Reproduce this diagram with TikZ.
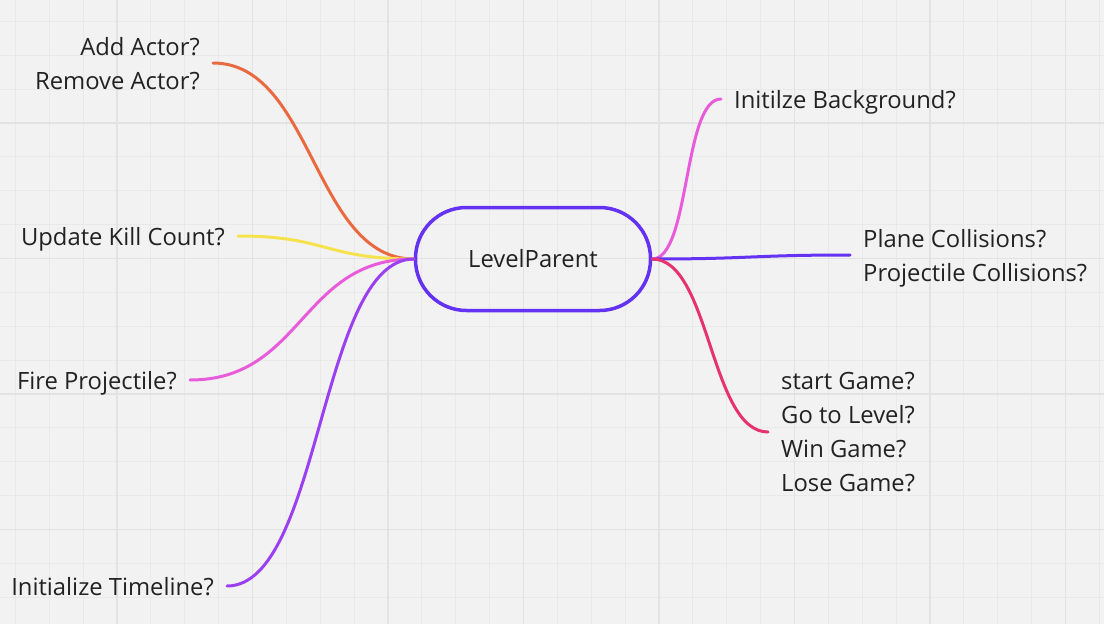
\documentclass[tikz,border=0pt]{standalone}
\usepackage{fontspec}
\setmainfont{Open Sans}
\usepackage{tikz}
\definecolor{boardGray}{HTML}{F2F2F2}
\definecolor{gridMinor}{HTML}{E9E9E9}
\definecolor{gridMajor}{HTML}{E2E2E2}
\definecolor{inkDark}{HTML}{222222}
\definecolor{parentViolet}{HTML}{6432F2}
\definecolor{branchOrange}{HTML}{E96A40}
\definecolor{branchYellow}{HTML}{F6E24C}
\definecolor{branchPink}{HTML}{E85CDC}
\definecolor{branchPurple}{HTML}{9B40F0}
\definecolor{branchRed}{HTML}{E6336E}

\begin{document}
\begin{tikzpicture}[
			x=1pt, y=-1pt,
			every node/.style={font=\fontsize{23.8}{34}\selectfont, text=inkDark},
			parent/.style={
				draw=parentViolet, line width=3.5pt, rounded corners=51pt,
				minimum width=235pt, minimum height=103pt
			},
			leafL/.style={anchor=east, align=right, inner xsep=13pt, inner ysep=0pt, text depth=0pt},
			leafR/.style={anchor=west, align=left, inner xsep=13pt, inner ysep=0pt, text depth=0pt},
			branch/.style={line width=3pt, line cap=round}
			]
			
			% board
			\useasboundingbox (0,0) rectangle (1104,624);
			\begin{scope}
				\clip (0,0) rectangle (1104,624);
				\fill[boardGray] (0,0) rectangle (1104,624);
				\foreach \i in {0,...,32}{
					\pgfmathsetmacro{\gx}{15.4+33.875*\i}
					\draw[gridMinor, line width=1pt] (\gx,0) -- (\gx,624);
				}
				\foreach \j in {0,...,18}{
					\pgfmathsetmacro{\gy}{21.4+33.875*\j}
					\draw[gridMinor, line width=1pt] (0,\gy) -- (1104,\gy);
				}
				\foreach \i in {0,...,7}{
					\pgfmathsetmacro{\gx}{117+135.5*\i}
					\draw[gridMajor, line width=1.8pt] (\gx,0) -- (\gx,624);
				}
				\foreach \j in {0,...,3}{
					\pgfmathsetmacro{\gy}{123+135.5*\j}
					\draw[gridMajor, line width=1.8pt] (0,\gy) -- (1104,\gy);
				}
			\end{scope}
			
			\node[parent] (lp) at (533, 259) {LevelParent};
			
			\node[leafL] (actor) at (213, 63) {Add Actor?\\Remove Actor?};
			\node[leafL] (kill) at (238, 236) {Update Kill Count?};
			\node[leafL] (fire) at (190, 380) {Fire Projectile?};
			\node[leafL] (timeline) at (227, 586) {Initialize Timeline?};
			
			\node[leafR] (bg) at (721, 99) {Initilze Background?};
			\node[leafR] (coll) at (850, 255) {Plane Collisions?\\Projectile Collisions?};
			\node[leafR] (game) at (768, 432) {start Game?\\Go to Level?\\Win Game?\\Lose Game?};
			
			\draw[branch, branchOrange] (lp.west) .. controls +(-100,0) and +(100,0) .. (actor.east);
			\draw[branch, branchYellow] (lp.west) .. controls +(-89,0) and +(89,0) .. (kill.east);
			\draw[branch, branchPink] (lp.west) .. controls +(-113,0) and +(113,0) .. (fire.east);
			\draw[branch, branchPurple] (lp.west) .. controls +(-94,0) and +(94,0) .. (timeline.east);
			\draw[branch, branchPink] (lp.east) .. controls +(38,0) and +(-38,0) .. (bg.west);
			\draw[branch, parentViolet] (lp.east) .. controls +(99,0) and +(-99,0) .. (coll.west);
			\draw[branch, branchRed] (lp.east) .. controls +(58,0) and +(-58,0) .. (game.west);
			
		\end{tikzpicture}
\end{document}
